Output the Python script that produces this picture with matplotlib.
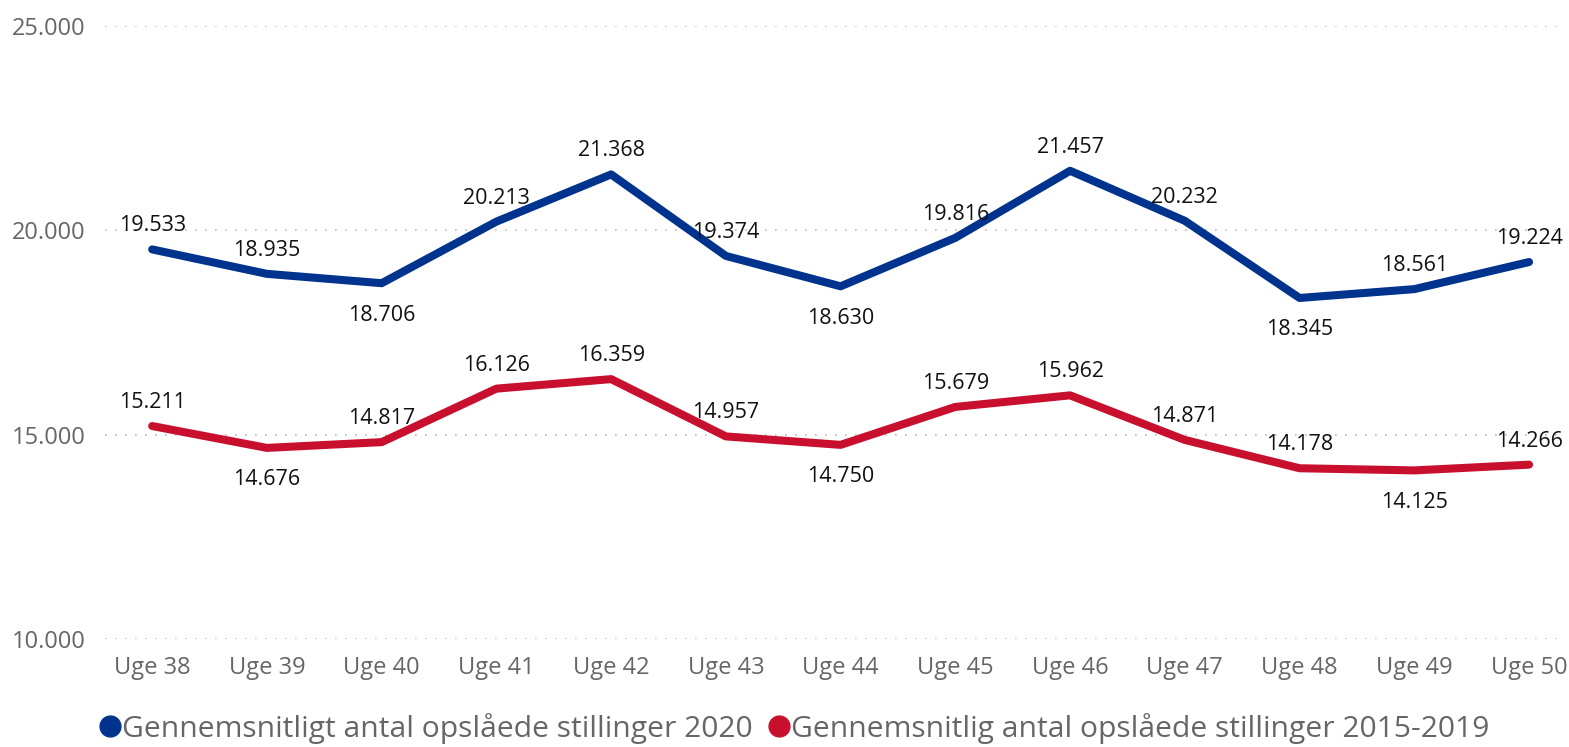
import matplotlib
matplotlib.use("Agg")
import matplotlib.pyplot as plt
from matplotlib.lines import Line2D
from matplotlib.ticker import FuncFormatter

# data
weeks = ["Uge 38", "Uge 39", "Uge 40", "Uge 41", "Uge 42", "Uge 43", "Uge 44",
         "Uge 45", "Uge 46", "Uge 47", "Uge 48", "Uge 49", "Uge 50"]
jobs_2020 = [19533, 18935, 18706, 20213, 21368, 19374, 18630, 19816, 21457, 20232, 18345, 18561, 19224]
jobs_avg = [15211, 14676, 14817, 16126, 16359, 14957, 14750, 15679, 15962, 14871, 14178, 14125, 14266]
# label position: 1 = above, -1 = below
pos_2020 = [1, 1, -1, 1, 1, 1, -1, 1, 1, 1, -1, 1, 1]
pos_avg = [1, -1, 1, 1, 1, 1, -1, 1, 1, 1, 1, -1, 1]
name_2020 = "Gennemsnitligt antal opslåede stillinger 2020"
name_avg = "Gennemsnitlig antal opslåede stillinger 2015-2019"

BLUE = "#00338D"
RED = "#C8102E"
GREY = "#666666"

plt.rcParams['font.family'] = ['Open Sans', 'DejaVu Sans']


def dk(v):
    # danish thousands separator
    return f"{int(v):,}".replace(",", ".")


def draw_series(ax, xs, ys, where, color):
    ax.plot(xs, ys, color=color, lw=5.8, solid_capstyle='round', solid_joinstyle='round', zorder=3)
    for x, y, p in zip(xs, ys, where):
        off = 17 if p > 0 else -23
        ax.annotate(dk(y), (x, y), xytext=(0, off), textcoords='offset points',
                    ha='center', va='center', fontsize=15.5, color='#111111', zorder=4)


fig = plt.figure(figsize=(15.69, 7.47), dpi=100)
ax = fig.add_axes([0.067, 0.1446, 0.928, 0.8206])

xs = list(range(len(weeks)))
draw_series(ax, xs, jobs_2020, pos_2020, BLUE)
draw_series(ax, xs, jobs_avg, pos_avg, RED)

ax.set_ylim(10000, 25000)
ax.set_xlim(-0.41, 12.28)
ax.set_yticks([10000, 15000, 20000, 25000])
ax.yaxis.set_major_formatter(FuncFormatter(lambda v, p: dk(v)))
ax.set_xticks(xs)
ax.set_xticklabels(weeks)
ax.tick_params(axis='both', length=0, colors=GREY, labelsize=17)
ax.tick_params(axis='x', pad=12)
ax.tick_params(axis='y', pad=14)
ax.grid(axis='y', color='#BBBBBB', linestyle=(0, (1, 5)), lw=1.2)
for s in ax.spines.values():
    s.set_visible(False)

handles = [Line2D([], [], marker='o', color=BLUE, ls='none', markersize=15),
           Line2D([], [], marker='o', color=RED, ls='none', markersize=15)]
fig.legend(handles, [name_2020, name_avg], loc='lower left', bbox_to_anchor=(0.047, -0.032),
           ncol=2, frameon=False, fontsize=21.6, labelcolor=GREY,
           handlelength=0.6, handletextpad=0.1, columnspacing=0.6)

fig.savefig("out.png", dpi=100)
